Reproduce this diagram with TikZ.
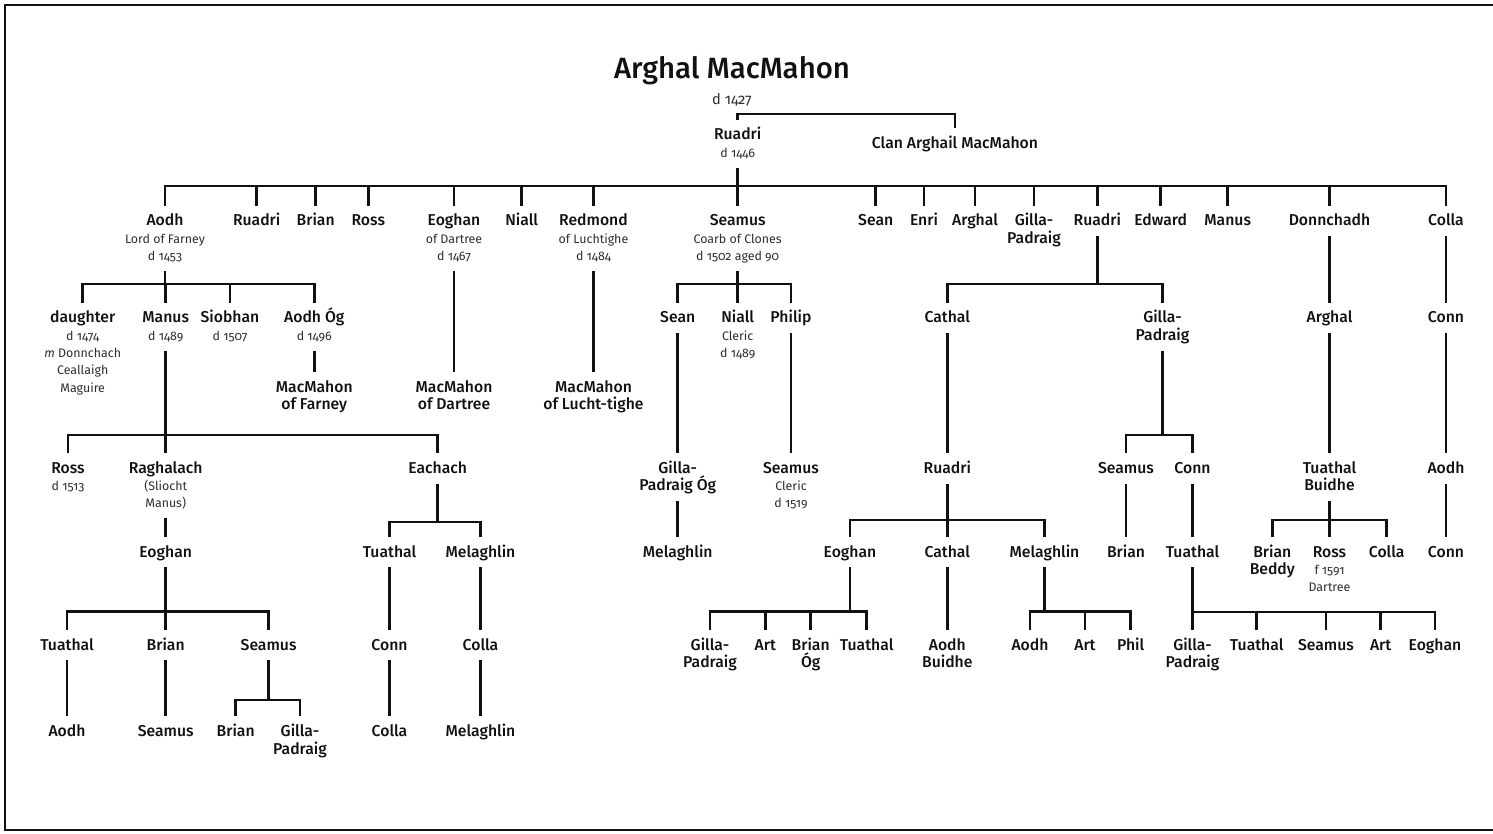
\documentclass[tikz,border=0pt]{standalone}
\usepackage{fontspec}
\setmainfont{Fira Sans}[Numbers=OldStyle]
\IfFontExistsTF{Fira Sans Medium}
  {\newfontfamily\namefamily{Fira Sans Medium}[Numbers=OldStyle]}
  {\newfontfamily\namefamily{Fira Sans Bold}[Numbers=OldStyle]}
\usepackage{xcolor}
\usetikzlibrary{calc}
\definecolor{TreeInk}{HTML}{111111}
\definecolor{TreeNote}{HTML}{2E2E2E}
\newcommand\namefont{\namefamily\fontsize{11.8}{13}\selectfont}
\newcommand\headfont{\namefamily\fontsize{22}{19.5}\selectfont}
\newcommand\detail[1]{{\normalfont\fontsize{9.3}{13}\selectfont\color{TreeNote}#1}}
\tikzset{
  person/.style={
    anchor=base,
    font=\namefont,
    text=TreeInk,
    align=flush center,
    text width=120pt,
    text height=11.4pt,
    inner xsep=1pt,
    inner ysep=3.6pt,
    execute at end node=\strut
  },
  headline/.style={
    anchor=base,
    font=\headfont,
    text=TreeInk,
    align=flush center,
    text width=300pt,
    inner sep=1pt
  },
  link/.style={
    draw=TreeInk,
    line width=2.2pt
  },
  boxline/.style={
    draw=TreeInk,
    line width=1.5pt
  }
}

\begin{document}
\begin{tikzpicture}[x=0.75pt,y=-0.75pt]
  \useasboundingbox (0,0) rectangle (1493,834);
  \draw[boxline] (1510,5) -- (5,5) -- (5,830) -- (1510,830);

  % Founder, then the split into Ruadri and the clan.
  \node[headline] (arghal0) at (732,79)
    {Arghal MacMahon\\{\normalfont\fontsize{11}{13}\selectfont\color{TreeNote}d 1427}};
  \node[person] (ruadri0) at (737.7,140) {Ruadri\\\detail{d 1446}};
  \node[person,text width=150pt] (clan) at (955,148.3) {Clan Arghail MacMahon};
  \coordinate (split) at (0,114);
  \draw[link] (ruadri0.north) -- (ruadri0.north |- split)
    -- (clan.north |- split) -- (clan.north);

  % Sons of Ruadri.
  \node[person] (aodh1) at (165,226) {Aodh\\\detail{Lord of Farney}\\\detail{d 1453}};
  \node[person] (ruadri1) at (256.7,226) {Ruadri};
  \node[person] (brian1) at (315.7,226) {Brian};
  \node[person] (ross1) at (368.3,226) {Ross};
  \node[person] (eoghan1) at (454,226) {Eoghan\\\detail{of Dartree}\\\detail{d 1467}};
  \node[person] (niall1) at (521.7,226) {Niall};
  \node[person] (redmond1) at (593.5,226) {Redmond\\\detail{of Luchtighe}\\\detail{d 1484}};
  \node[person] (seamus1) at (737.7,226) {Seamus\\\detail{Coarb of Clones}\\\detail{d 1502 aged 90}};
  \node[person] (sean1) at (875.7,226) {Sean};
  \node[person] (enri1) at (924,226) {Enri};
  \node[person] (arghal1) at (975,226) {Arghal};
  \node[person] (gilla1) at (1034,226) {Gilla-\\Padraig};
  \node[person] (ruadri2) at (1097.3,226) {Ruadri};
  \node[person] (edward1) at (1160.7,226) {Edward};
  \node[person] (manus1) at (1227.7,226) {Manus};
  \node[person] (donnchadh1) at (1329.5,226) {Donnchadh};
  \node[person] (colla1) at (1446,226) {Colla};

  \draw[link] (ruadri0.south) -- (ruadri0.south |- 0,186);
  \draw[link] (aodh1.north) -- (aodh1.north |- 0,186)
    -- (colla1.north |- 0,186) -- (colla1.north);
  \foreach \n in {ruadri1,brian1,ross1,eoghan1,niall1,redmond1,seamus1,sean1,
                  enri1,arghal1,gilla1,ruadri2,edward1,manus1,donnchadh1}
    \draw[link] (\n.north) -- (\n.north |- 0,186);

  % Second generation.
  \node[person] (daughter2) at (82.7,323) {daughter\\\detail{d 1474}\\\detail{\textit{m} Donnchach}\\\detail{Ceallaigh}\\\detail{Maguire}};
  \node[person] (manus2) at (165.7,323) {Manus\\\detail{d 1489}};
  \node[person] (siobhan2) at (230,323) {Siobhan\\\detail{d 1507}};
  \node[person] (aodhog2) at (314.3,323) {Aodh Óg\\\detail{d 1496}};
  \node[person] (sean2) at (677.7,323) {Sean};
  \node[person] (niall2) at (737.7,323) {Niall\\\detail{Cleric}\\\detail{d 1489}};
  \node[person] (philip2) at (791,323) {Philip};
  \node[person] (cathal2) at (947.3,323) {Cathal};
  \node[person] (gilla2) at (1162.5,323) {Gilla-\\Padraig};
  \node[person] (arghal2) at (1329.5,323) {Arghal};
  \node[person] (conn2) at (1446,323) {Conn};

  \draw[link] (aodh1.south) -- (aodh1.south |- 0,284);
  \draw[link] (daughter2.north) -- (daughter2.north |- 0,284)
    -- (aodhog2.north |- 0,284) -- (aodhog2.north);
  \foreach \n in {manus2,siobhan2}
    \draw[link] (\n.north) -- (\n.north |- 0,284);

  \draw[link] (seamus1.south) -- (seamus1.south |- 0,284);
  \draw[link] (sean2.north) -- (sean2.north |- 0,284)
    -- (philip2.north |- 0,284) -- (philip2.north);
  \draw[link] (niall2.north) -- (niall2.north |- 0,284);

  \draw[link] (ruadri2.south) -- (ruadri2.south |- 0,284);
  \draw[link] (cathal2.north) -- (cathal2.north |- 0,284)
    -- (gilla2.north |- 0,284) -- (gilla2.north);

  \draw[link] (donnchadh1.south) -- (arghal2.north);
  \draw[link] (colla1.south) -- (conn2.north);

  % The three septs.
  \node[person] (farney) at (314.3,392.3) {MacMahon\\of Farney};
  \node[person] (dartree) at (454,392.3) {MacMahon\\of Dartree};
  \node[person] (luchttighe) at (593.5,392.3) {MacMahon\\of Lucht-tighe};
  \draw[link] (aodhog2.south) -- (farney.north);
  \draw[link] (eoghan1.south) -- (dartree.north);
  \draw[link] (redmond1.south) -- (luchttighe.north);

  % Third generation.
  \node[person] (ross3) at (68,473.3) {Ross\\\detail{d 1513}};
  \node[person] (raghalach3) at (165.7,473.3) {Raghalach\\\detail{(Sliocht}\\\detail{Manus)}};
  \node[person] (eachach3) at (437.7,473.3) {Eachach};
  \node[person] (gillaog3) at (677.7,473.3) {Gilla-\\Padraig Óg};
  \node[person] (seamus3) at (791,473.3) {Seamus\\\detail{Cleric}\\\detail{d 1519}};
  \node[person] (ruadri3) at (947.3,473.3) {Ruadri};
  \node[person] (seamus3b) at (1126,473.3) {Seamus};
  \node[person] (conn3) at (1192.5,473.3) {Conn};
  \node[person] (tuathal3) at (1329.5,473.3) {Tuathal\\Buidhe};
  \node[person] (aodh3) at (1446,473.3) {Aodh};

  \draw[link] (manus2.south) -- (manus2.south |- 0,435);
  \draw[link] (ross3.north) -- (ross3.north |- 0,435)
    -- (eachach3.north |- 0,435) -- (eachach3.north);
  \draw[link] (raghalach3.north) -- (raghalach3.north |- 0,435);

  \draw[link] (gilla2.south) -- (gilla2.south |- 0,435);
  \draw[link] (seamus3b.north) -- (seamus3b.north |- 0,435)
    -- (conn3.north |- 0,435) -- (conn3.north);

  \draw[link] (sean2.south) -- (gillaog3.north);
  \draw[link] (philip2.south) -- (seamus3.north);
  \draw[link] (cathal2.south) -- (ruadri3.north);
  \draw[link] (arghal2.south) -- (tuathal3.north);
  \draw[link] (conn2.south) -- (aodh3.north);

  % Fourth generation.
  \node[person] (eoghan4) at (165.7,557) {Eoghan};
  \node[person] (tuathal4) at (389.5,557) {Tuathal};
  \node[person] (melaghlin4) at (480.5,557) {Melaghlin};
  \node[person] (melaghlin4b) at (677.7,557) {Melaghlin};
  \node[person] (eoghan4b) at (850,557) {Eoghan};
  \node[person] (cathal4) at (947.3,557) {Cathal};
  \node[person] (melaghlin4c) at (1044.5,557) {Melaghlin};
  \node[person] (brian4) at (1126,557) {Brian};
  \node[person] (tuathal4b) at (1192.5,557) {Tuathal};
  \node[person] (brian4b) at (1272.3,557) {Brian\\Beddy};
  \node[person] (ross4) at (1329.5,557) {Ross\\\detail{f 1591}\\\detail{Dartree}};
  \node[person] (colla4) at (1386.7,557) {Colla};
  \node[person] (conn4) at (1446,557) {Conn};

  \draw[link] (raghalach3.south) -- (eoghan4.north);
  \draw[link] (gillaog3.south) -- (melaghlin4b.north);
  \draw[link] (seamus3b.south) -- (brian4.north);
  \draw[link] (conn3.south) -- (tuathal4b.north);
  \draw[link] (aodh3.south) -- (conn4.north);

  \draw[link] (eachach3.south) -- (eachach3.south |- 0,522);
  \draw[link] (tuathal4.north) -- (tuathal4.north |- 0,522)
    -- (melaghlin4.north |- 0,522) -- (melaghlin4.north);

  \draw[link] (ruadri3.south) -- (ruadri3.south |- 0,520);
  \draw[link] (eoghan4b.north) -- (eoghan4b.north |- 0,520)
    -- (melaghlin4c.north |- 0,520) -- (melaghlin4c.north);
  \draw[link] (cathal4.north) -- (cathal4.north |- 0,520);

  \draw[link] (tuathal3.south) -- (tuathal3.south |- 0,520);
  \draw[link] (brian4b.north) -- (brian4b.north |- 0,520)
    -- (colla4.north |- 0,520) -- (colla4.north);
  \draw[link] (ross4.north) -- (ross4.north |- 0,520);

  % Fifth generation.
  \node[person] (tuathal5) at (67,650) {Tuathal};
  \node[person] (brian5) at (165.7,650) {Brian};
  \node[person] (seamus5) at (268.6,650) {Seamus};
  \node[person] (conn5) at (389.5,650) {Conn};
  \node[person] (colla5) at (480.5,650) {Colla};
  \node[person] (gilla5) at (710,650) {Gilla-\\Padraig};
  \node[person] (art5) at (765.3,650) {Art};
  \node[person] (brianog5) at (810.7,650) {Brian\\Óg};
  \node[person] (tuathal5b) at (866.7,650) {Tuathal};
  \node[person] (aodh5) at (947.3,650) {Aodh\\Buidhe};
  \node[person] (aodh5b) at (1030,650) {Aodh};
  \node[person] (art5b) at (1085,650) {Art};
  \node[person] (phil5) at (1130.7,650) {Phil};
  \node[person] (gilla5b) at (1192.5,650) {Gilla-\\Padraig};
  \node[person] (tuathal5c) at (1256.7,650) {Tuathal};
  \node[person] (seamus5b) at (1326,650) {Seamus};
  \node[person] (art5c) at (1380.7,650) {Art};
  \node[person] (eoghan5) at (1435,650) {Eoghan};

  \draw[link] (eoghan4.south) -- (eoghan4.south |- 0,611.7);
  \draw[link] (tuathal5.north) -- (tuathal5.north |- 0,611.7)
    -- (seamus5.north |- 0,611.7) -- (seamus5.north);
  \draw[link] (brian5.north) -- (brian5.north |- 0,611.7);

  \draw[link] (tuathal4.south) -- (conn5.north);
  \draw[link] (melaghlin4.south) -- (colla5.north);
  \draw[link] (cathal4.south) -- (aodh5.north);

  \draw[link] (eoghan4b.south) -- (eoghan4b.south |- 0,611.7);
  \draw[link] (gilla5.north) -- (gilla5.north |- 0,611.7)
    -- (tuathal5b.north |- 0,611.7) -- (tuathal5b.north);
  \foreach \n in {art5,brianog5}
    \draw[link] (\n.north) -- (\n.north |- 0,611.7);

  \draw[link] (melaghlin4c.south) -- (melaghlin4c.south |- 0,611.7);
  \draw[link] (aodh5b.north) -- (aodh5b.north |- 0,611.7)
    -- (phil5.north |- 0,611.7) -- (phil5.north);
  \draw[link] (art5b.north) -- (art5b.north |- 0,611.7);

  \draw[link] (tuathal4b.south) -- (gilla5b.north);
  \draw[link] (gilla5b.north |- 0,612) -- (eoghan5.north |- 0,612)
    -- (eoghan5.north);
  \foreach \n in {tuathal5c,seamus5b,art5c}
    \draw[link] (\n.north) -- (\n.north |- 0,612);

  % Sixth generation.
  \node[person] (aodh6) at (67,736.7) {Aodh};
  \node[person] (seamus6) at (165.7,736.7) {Seamus};
  \node[person] (brian6) at (235.7,736.7) {Brian};
  \node[person] (gilla6) at (300,736.7) {Gilla-\\Padraig};
  \node[person] (colla6) at (389.5,736.7) {Colla};
  \node[person] (melaghlin6) at (480.5,736.7) {Melaghlin};

  \draw[link] (tuathal5.south) -- (aodh6.north);
  \draw[link] (brian5.south) -- (seamus6.north);
  \draw[link] (conn5.south) -- (colla6.north);
  \draw[link] (colla5.south) -- (melaghlin6.north);
  \draw[link] (seamus5.south) -- (seamus5.south |- 0,700);
  \draw[link] (brian6.north) -- (brian6.north |- 0,700)
    -- (gilla6.north |- 0,700) -- (gilla6.north);
\end{tikzpicture}
\end{document}
